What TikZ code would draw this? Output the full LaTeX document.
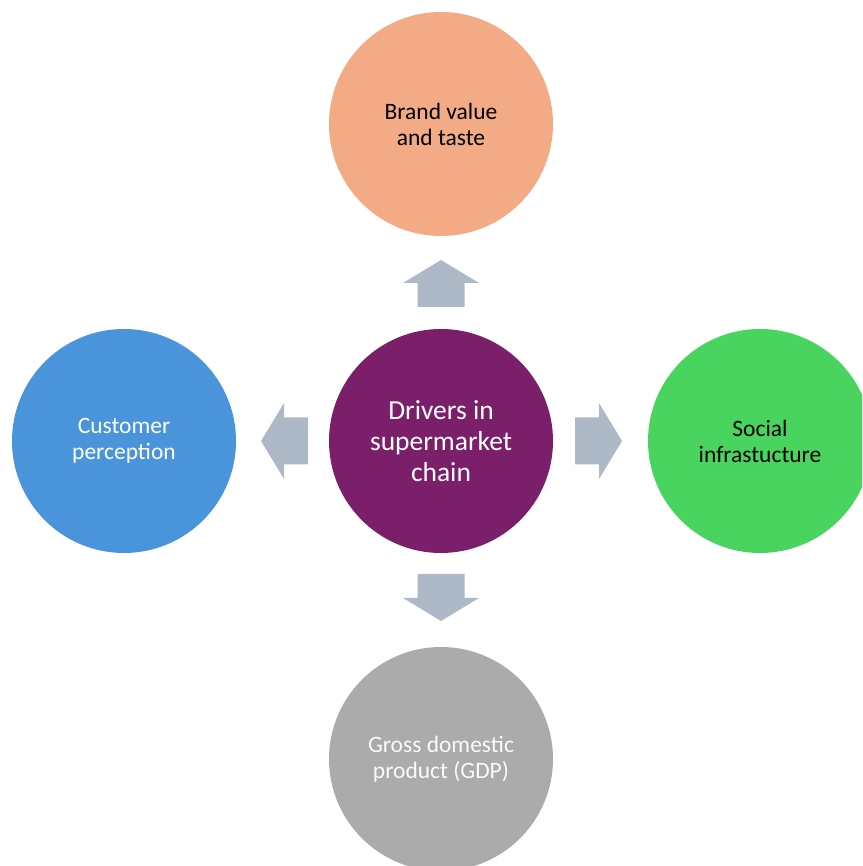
\documentclass[tikz,border=0pt]{standalone}
\usepackage{fontspec}
\setmainfont{Carlito}
\begin{document}
\definecolor{hubpurple}{HTML}{7B1F6B}
\definecolor{brandorange}{HTML}{F3AB85}
\definecolor{custblue}{HTML}{4A94DB}
\definecolor{socgreen}{HTML}{48D45E}
\definecolor{gdpgray}{HTML}{ABABAB}
\definecolor{arrowgray}{HTML}{ADB9C7}
\begin{tikzpicture}[x=1pt,y=1pt,
  bubble/.style={circle, minimum size=224pt, inner sep=0pt, align=center,
    font=\fontsize{23.5}{26}\selectfont},
  hubbubble/.style={bubble, font=\fontsize{27.5}{31}\selectfont},
  pics/blockarrow/.style={code={
    \fill[arrowgray] (0,-23.5) -- (24,-23.5) -- (24,-38) -- (47,0)
      -- (24,38) -- (24,23.5) -- (0,23.5) -- cycle;}}]
\useasboundingbox (0,0) rectangle (862,866);
\clip (0,0) rectangle (862,866);

% central driver and the four surrounding factors
\node[hubbubble, fill=hubpurple, text=white] (hub) at (441,425)
  {Drivers in\\supermarket\\chain};
\node[bubble, fill=brandorange, text=black] (brand) at (441,742)
  {Brand value\\and taste};
\node[bubble, fill=custblue, text=white] (cust) at (124,425)
  {Customer\\perception};
\node[bubble, fill=socgreen, text=black] (social) at (760,425)
  {Social\\infrastucture};
\node[bubble, fill=gdpgray, text=white!94!gdpgray] (gdp) at (441,107)
  {Gross domestic\\product (GDP)};

% block arrows pointing outward from the hub
\pic[rotate=90]  at (441,559) {blockarrow};
\pic[rotate=-90] at (441,292) {blockarrow};
\pic[rotate=180] at (308,425) {blockarrow};
\pic             at (575,425) {blockarrow};
\end{tikzpicture}
\end{document}
